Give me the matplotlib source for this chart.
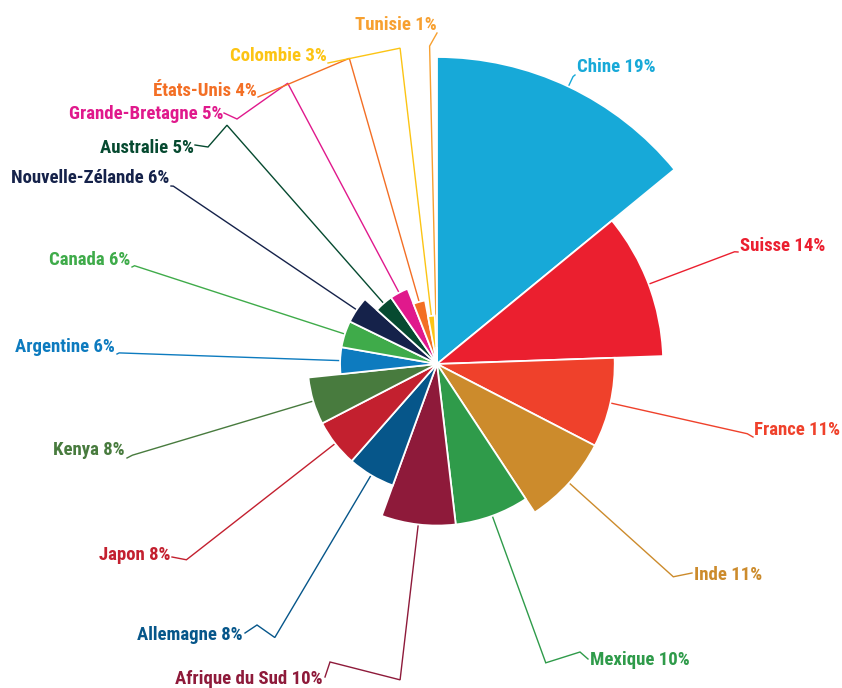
import numpy as np
import matplotlib
matplotlib.use("Agg")
import matplotlib.pyplot as plt
from matplotlib.patches import Wedge
from matplotlib import font_manager


# Données (sens horaire depuis midi)
pays = ["Chine", "Suisse", "France", "Inde", "Mexique", "Afrique du Sud",
        "Allemagne", "Japon", "Kenya", "Argentine", "Canada",
        "Nouvelle-Zélande", "Australie", "Grande-Bretagne", "États-Unis",
        "Colombie", "Tunisie"]
valeurs = [19, 14, 11, 11, 10, 10, 8, 8, 8, 6, 6, 6, 5, 5, 4, 3, 1]
couleurs = ["#17a9d8", "#eb1f2f", "#ef412b", "#cc8b2c", "#2f9b4a", "#8e1a3a",
            "#06568a", "#c3202f", "#487b3e", "#0d7bbf", "#3fab4a",
            "#15224a", "#064a30", "#e0198c", "#f36f25", "#fcc414", "#f7a030"]

# Mise en page (pixels de l'image) : point d'appui du texte, fin du trait, coude
W, H = 842, 688
CX, CY = 437, 364
R_MAX = 307
R_COUDE = 318
pos_texte = [(577, 72), (740, 251), (754, 435), (694, 580), (590, 665),
             (323, 684), (243, 640), (170, 560), (125, 455), (115, 352),
             (130, 265), (169, 183), (194, 153), (223, 119), (257, 96),
             (327, 61), (437, 30)]
fin_trait = [(575, 75), (738, 252), (753, 437), (692, 573), (588, 659),
             (325, 677), (245, 633), (172, 557), (127, 458), (117, 354),
             (132, 267), (171, 186), (195, 145), (224, 113), (258, 97),
             (328, 63), (437, 33)]
coudes = [[], [], [], [], [(580, 652)], [(330, 662)], [(257, 625)], [], [], [],
          [], [], [(208, 147)], [(237, 119)], [], [], []]


def img(p):
    return p[0] - CX, CY - p[1]


def choisir_police():
    noms = {f.name for f in font_manager.fontManager.ttflist}
    for nom in ["Liberation Sans Narrow", "Roboto Condensed", "Open Sans Condensed"]:
        if nom in noms:
            return nom, "normal"
    return "DejaVu Sans", "condensed"


police, etirement = choisir_police()

fig = plt.figure(figsize=(W / 100, H / 100), dpi=100)
ax = fig.add_axes([0, 0, 1, 1])
ax.set_xlim(-CX, W - CX)
ax.set_ylim(-(H - CY), CY)
ax.set_aspect("equal")
ax.axis("off")

total = sum(valeurs)
vmax = max(valeurs)
cumul = np.concatenate([[0], np.cumsum(valeurs)])

for i, (nom, v, c) in enumerate(zip(pays, valeurs, couleurs)):
    a0 = cumul[i] / total * 360
    a1 = cumul[i + 1] / total * 360
    r = v / vmax * R_MAX
    ax.add_patch(Wedge((0, 0), r, 90 - a1, 90 - a0, facecolor=c,
                       edgecolor="white", linewidth=1.3, zorder=2))

    # trait de rappel : arc -> coude -> étiquette
    am = np.radians((a0 + a1) / 2)
    xs = [r * np.sin(am), R_COUDE * np.sin(am)]
    ys = [r * np.cos(am), R_COUDE * np.cos(am)]
    for p in coudes[i] + [fin_trait[i]]:
        x, y = img(p)
        xs.append(x)
        ys.append(y)
    ax.plot(xs, ys, color=c, linewidth=1.0, zorder=1,
            solid_joinstyle="miter")

    tx, ty = img(pos_texte[i])
    cote = "left" if (a0 + a1) / 2 < 180 else "right"
    ax.text(tx, ty, f"{nom} {v}%", color=c, fontsize=13.5, fontweight="bold",
            family=police, fontstretch=etirement, ha=cote, va="baseline")

fig.savefig("out.png", dpi=100)
